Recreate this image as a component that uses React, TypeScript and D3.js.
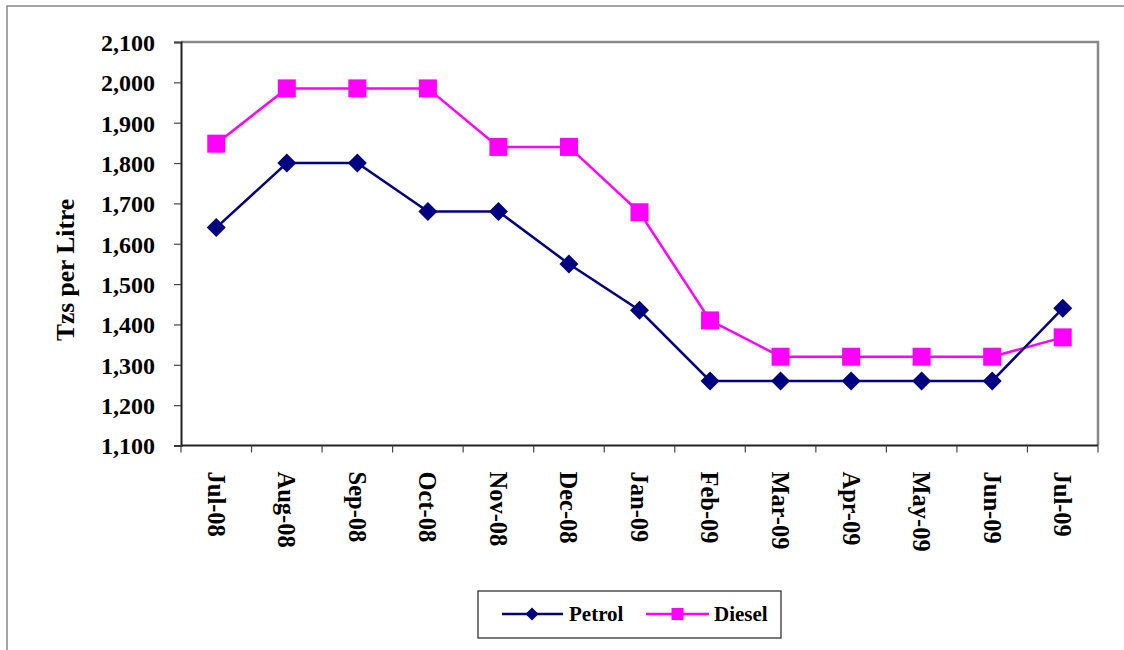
import React, { useEffect, useRef } from "react";
import * as d3 from "d3";

const months = ["Jul-08","Aug-08","Sep-08","Oct-08","Nov-08","Dec-08","Jan-09","Feb-09","Mar-09","Apr-09","May-09","Jun-09","Jul-09"];
const petrol = [1640,1800,1800,1680,1680,1550,1435,1260,1260,1260,1260,1260,1440];
const diesel = [1848,1985,1985,1985,1840,1840,1678,1410,1320,1320,1320,1320,1368];
const yTicks = [1100,1200,1300,1400,1500,1600,1700,1800,1900,2000,2100];
const seriesNames = ["Petrol","Diesel"];

const W = 1124, H = 650;
const FONT = "'Liberation Serif', 'Times New Roman', serif";

export default function App() {
  const ref = useRef<SVGSVGElement>(null);
  useEffect(() => {
    const svg = d3.select(ref.current);
    svg.selectAll("*").remove();
    const left = 181, right = 1098, top = 42, bottom = 445.5;

    // outer border
    svg.append("rect").attr("x", 7).attr("y", 6).attr("width", 1140).attr("height", 670)
      .attr("fill", "white").attr("stroke", "#888").attr("stroke-width", 1.5);

    const x = d3.scaleBand().domain(months).range([left, right]).padding(0);
    const y = d3.scaleLinear().domain([1100, 2100]).range([bottom, top]);

    // plot frame: top/right gray
    svg.append("path").attr("d", `M${left},${top}H${right}V${bottom}`)
      .attr("fill", "none").attr("stroke", "#888").attr("stroke-width", 2.5);

    // y axis
    const ya = svg.append("g").attr("transform", `translate(${left},0)`)
      .call(d3.axisLeft(y).tickValues(yTicks).tickSize(7).tickFormat(d3.format(",")) as any);
    ya.select(".domain").attr("stroke", "#222").attr("stroke-width", 2);
    ya.selectAll(".tick line").attr("stroke", "#444").attr("stroke-width", 1.2);
    ya.selectAll(".tick text").attr("x", -26).attr("font-family", FONT).attr("font-weight", "bold")
      .attr("font-size", 24).attr("fill", "#000").attr("dy", "0.35em");

    // x axis
    const xa = svg.append("g").attr("transform", `translate(0,${bottom})`);
    xa.append("line").attr("x1", left).attr("x2", right).attr("y1", 0).attr("y2", 0)
      .attr("stroke", "#222").attr("stroke-width", 2);
    const bounds = months.map((m) => x(m) as number).concat([right]);
    xa.selectAll("line.tk").data(bounds).enter().append("line").attr("class", "tk")
      .attr("x1", (d) => d).attr("x2", (d) => d).attr("y1", 0).attr("y2", 7)
      .attr("stroke", "#444").attr("stroke-width", 1.2);
    xa.selectAll("text").data(months).enter().append("text")
      .attr("transform", (d) => `translate(${(x(d) as number) + x.bandwidth() / 2},${26}) rotate(90)`)
      .attr("dy", "0.35em").attr("text-anchor", "start")
      .attr("font-family", FONT).attr("font-weight", "bold").attr("font-size", 24.5)
      .text((d) => d);

    // y title
    svg.append("text").attr("transform", `translate(65,270) rotate(-90)`)
      .attr("dy", "0.35em").attr("text-anchor", "middle")
      .attr("font-family", FONT).attr("font-weight", "bold").attr("font-size", 25.5).text("Tzs per Litre");

    const line = d3.line<number>().x((_, i) => (x(months[i]) as number) + x.bandwidth() / 2).y((d) => y(d));
    const cx = (i: number) => (x(months[i]) as number) + x.bandwidth() / 2;

    svg.append("path").datum(diesel).attr("d", line).attr("fill", "none").attr("stroke", "#FF00FF").attr("stroke-width", 2.5);
    svg.append("path").datum(petrol).attr("d", line).attr("fill", "none").attr("stroke", "#000080").attr("stroke-width", 2.5);

    const sq = 18, dm = 9.5;
    svg.selectAll("rect.dm").data(diesel).enter().append("rect").attr("class", "dm")
      .attr("x", (_, i) => cx(i) - sq / 2).attr("y", (d) => y(d) - sq / 2)
      .attr("width", sq).attr("height", sq).attr("fill", "#FF00FF");
    svg.selectAll("path.pm").data(petrol).enter().append("path").attr("class", "pm")
      .attr("d", (d, i) => `M${cx(i)},${y(d) - dm}L${cx(i) + dm},${y(d)}L${cx(i)},${y(d) + dm}L${cx(i) - dm},${y(d)}Z`)
      .attr("fill", "#000080");

    // legend
    const lg = svg.append("g");
    lg.append("rect").attr("x", 478).attr("y", 591).attr("width", 303).attr("height", 47)
      .attr("fill", "white").attr("stroke", "#222").attr("stroke-width", 1.2);
    const ly = 614;
    lg.append("line").attr("x1", 502).attr("x2", 563).attr("y1", ly).attr("y2", ly).attr("stroke", "#000080").attr("stroke-width", 2.5);
    lg.append("path").attr("d", `M532,${ly - 6.5}L538.5,${ly}L532,${ly + 6.5}L525.5,${ly}Z`).attr("fill", "#000080");
    lg.append("text").attr("x", 569).attr("y", ly).attr("dy", "0.35em").attr("font-family", FONT)
      .attr("font-weight", "bold").attr("font-size", 21).text(seriesNames[0]);
    lg.append("line").attr("x1", 646).attr("x2", 709).attr("y1", ly).attr("y2", ly).attr("stroke", "#FF00FF").attr("stroke-width", 2.5);
    lg.append("rect").attr("x", 671.5).attr("y", ly - 6).attr("width", 12).attr("height", 12).attr("fill", "#FF00FF");
    lg.append("text").attr("x", 714).attr("y", ly).attr("dy", "0.35em").attr("font-family", FONT)
      .attr("font-weight", "bold").attr("font-size", 21).text(seriesNames[1]);
  }, []);
  return (
    <svg ref={ref} width={W} height={H} style={{ position: "absolute", left: 0, top: 0, background: "white" }} />
  );
}
